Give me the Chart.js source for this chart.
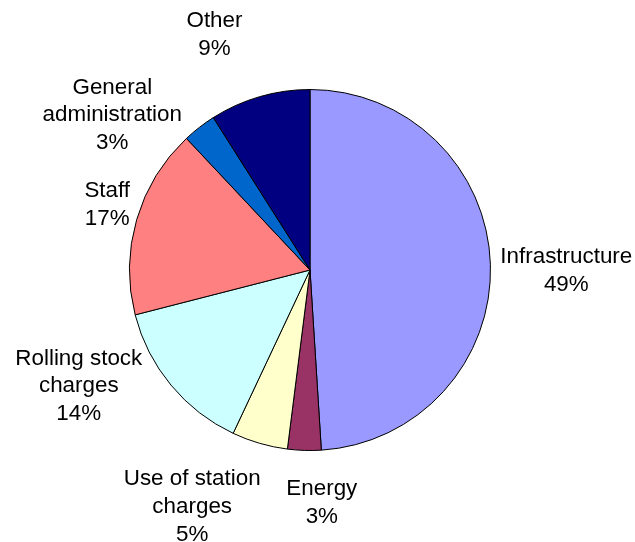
<!DOCTYPE html>
<html>
<head>
<meta charset="utf-8">
<script src="https://cdn.jsdelivr.net/npm/chart.js@4/dist/chart.umd.min.js"></script>
<style>
  html, body { margin: 0; padding: 0; background: #fff; }
  canvas { display: block; }
</style>
</head>
<body>
<canvas id="cost-chart" width="635" height="542"></canvas>
<script>
// cost breakdown, in percent, clockwise from 12 o'clock
const categories = [
    ['Infrastructure'],
    ['Energy'],
    ['Use of station', 'charges'],
    ['Rolling stock', 'charges'],
    ['Staff'],
    ['General', 'administration'],
    ['Other']
];
const shares = [49, 3, 5, 14, 17, 3, 9];
const colours = ['#9999FF', '#993366', '#FFFFCC', '#CCFFFF', '#FF8080', '#0066CC', '#000080'];

// small hand adjustments so labels sit where the spreadsheet put them
const labelNudge = [[-2, 8], [19, 13], [-45, 12], [-34, -33], [4, -4], [-37, 30], [-34, -24]];

const outsideLabels = {
    id: 'outsideLabels',
    afterDatasetsDraw(chart) {
        const ctx = chart.ctx;
        const meta = chart.getDatasetMeta(0);
        const lineHeight = 27.7;
        const gap = 12;
        ctx.save();
        ctx.font = '22.4px "Liberation Sans", Arial, sans-serif';
        ctx.fillStyle = '#000';
        ctx.textAlign = 'center';
        ctx.textBaseline = 'middle';
        meta.data.forEach(function (arc, i) {
            const p = arc.getProps(['x', 'y', 'startAngle', 'endAngle', 'outerRadius'], true);
            const mid = (p.startAngle + p.endAngle) / 2;
            const dx = Math.cos(mid), dy = Math.sin(mid);
            const lines = categories[i].concat([shares[i] + '%']);
            const w = Math.max.apply(null, lines.map(function (l) { return ctx.measureText(l).width; }));
            const h = lines.length * lineHeight;
            const r = p.outerRadius + gap;
            const cx = p.x + dx * r + dx * w / 2 + labelNudge[i][0];
            const cy = p.y + dy * r + dy * h / 2 + labelNudge[i][1];
            lines.forEach(function (line, j) {
                ctx.fillText(line, cx, cy + (j - (lines.length - 1) / 2) * lineHeight);
            });
        });
        ctx.restore();
    }
};

document.addEventListener('DOMContentLoaded', function () {
    const ctx = document.getElementById('cost-chart').getContext('2d');
    new Chart(ctx, {
        type: 'pie',
        data: {
            labels: categories.map(function (c) { return c.join(' '); }),
            datasets: [{
                data: shares,
                backgroundColor: colours,
                borderColor: '#000',
                borderWidth: 1
            }]
        },
        options: {
            responsive: false,
            animation: false,
            layout: { padding: { left: 129, right: 144, top: 89, bottom: 91 } },
            plugins: {
                legend: { display: false },
                tooltip: { enabled: false }
            }
        },
        plugins: [outsideLabels]
    });
});
</script>
</body>
</html>
